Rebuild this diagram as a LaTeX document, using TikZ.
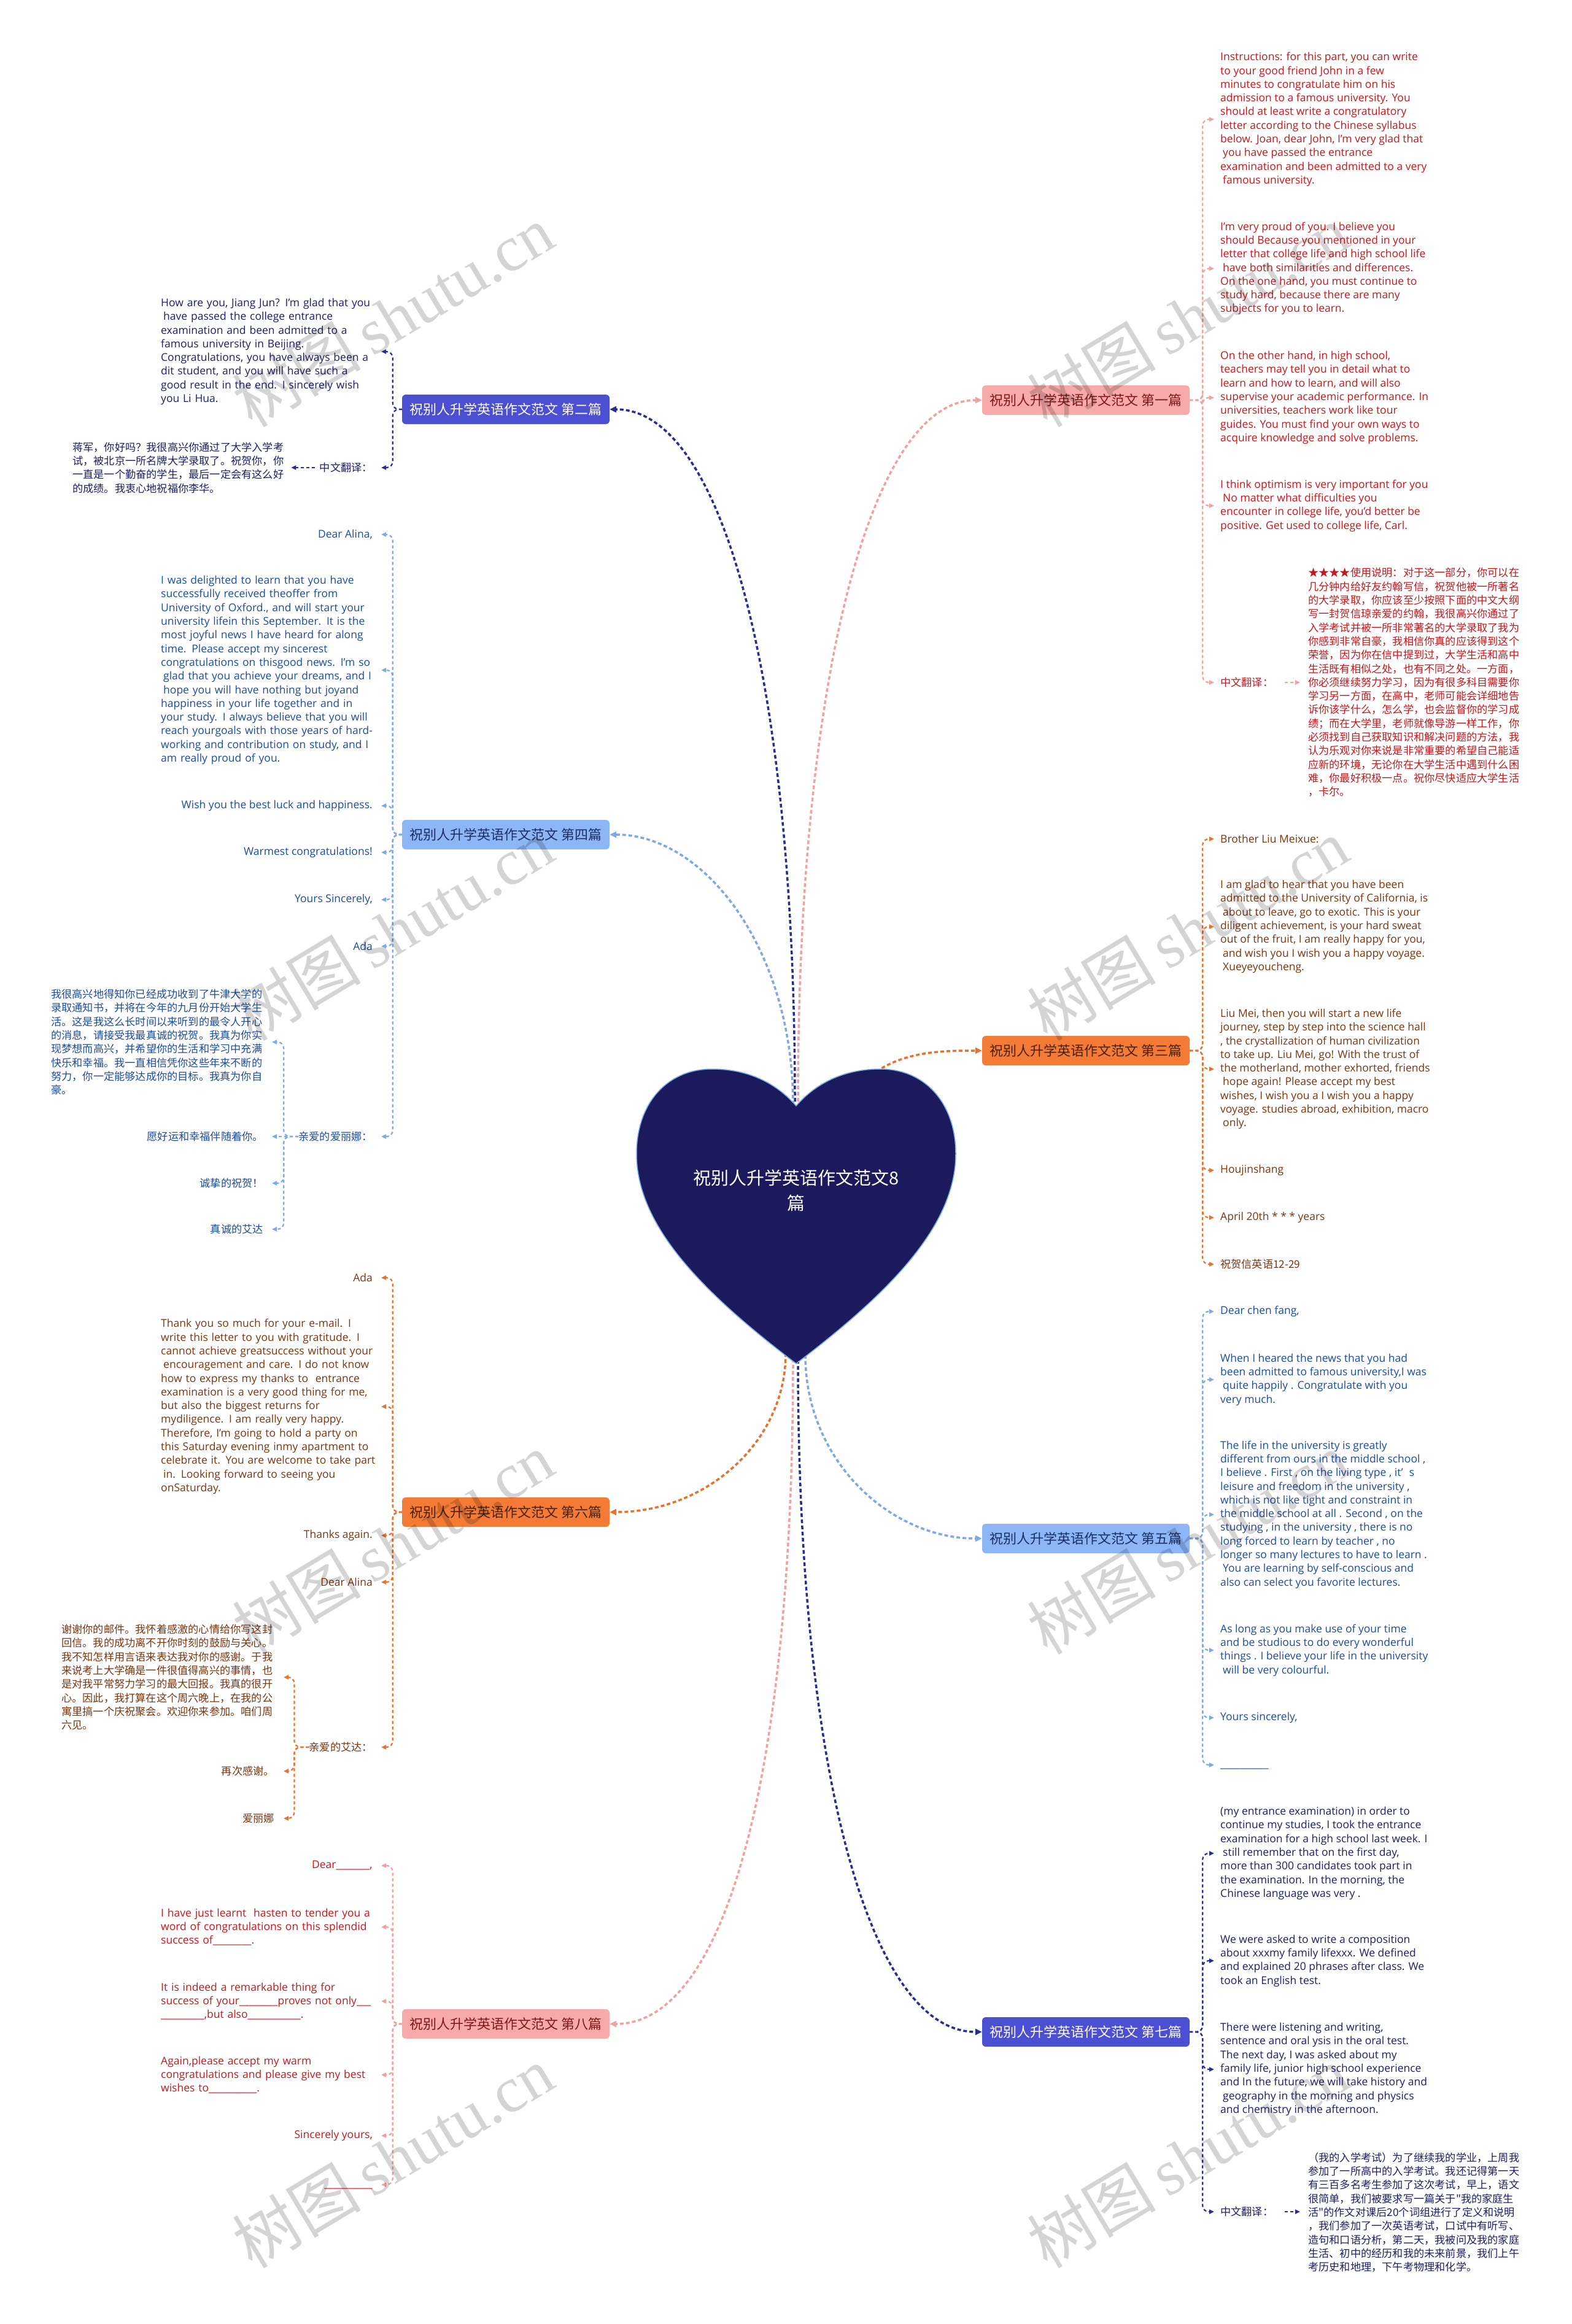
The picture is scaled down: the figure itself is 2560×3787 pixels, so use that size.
\documentclass[tikz,border=0pt]{standalone}
\usepackage{fontspec}
\setmainfont{Open Sans}
\newfontfamily\cjk{Noto Sans CJK SC}
\newfontfamily\wmserif{Liberation Serif}
\usetikzlibrary{arrows.meta}
\definecolor{pinkbox}{HTML}{F8A9A9}
\definecolor{pinkline}{HTML}{F2A0A0}
\definecolor{redtext}{HTML}{C8161D}
\definecolor{pinkboxtext}{HTML}{7A1A1A}
\definecolor{indigobox}{HTML}{4B4FD1}
\definecolor{navyline}{HTML}{2B2B96}
\definecolor{navytext}{HTML}{1E1E66}
\definecolor{orangebox}{HTML}{F47B35}
\definecolor{orangeboxtext}{HTML}{4A2008}
\definecolor{orangeline}{HTML}{E8722C}
\definecolor{browntext}{HTML}{7A3510}
\definecolor{lbluebox}{HTML}{8DB6F7}
\definecolor{lblueline}{HTML}{7EA8E6}
\definecolor{bluetext}{HTML}{1D4B9E}
\definecolor{lblueboxtext}{HTML}{1B2F66}
\definecolor{heartfill}{HTML}{1A1A5C}
\tikzset{
  en/.style={inner sep=0pt, align=left, font=\fontsize{17.5}{22.3}\selectfont},
  zh/.style={inner sep=0pt, align=left, font=\cjk\fontsize{17.2}{22.3}\selectfont},
  blockL/.style={en, anchor=west, text width=420pt},
  branchbox/.style={rounded corners=6pt, minimum width=338pt, minimum height=48pt, inner sep=0pt, font=\cjk\fontsize{22}{24}\selectfont},
  mainline/.style={line width=3.5pt, dash pattern=on 6pt off 4pt, -{Triangle[length=11pt,width=10pt]}},
  cl/.style={line width=2.2pt, dash pattern=on 5pt off 4pt, rounded corners=10pt, -{Triangle[length=8pt,width=7pt]}},
  wm/.style={rotate=31, text=black, text opacity=0.17, inner sep=0pt},
}
\begin{document}
\begin{tikzpicture}[x=1pt,y=-1pt]
\useasboundingbox (0,0) rectangle (2560,3787);
\fill[white] (0,0) rectangle (2560,3787);

% tip coordinates
\coordinate (tipR) at (1978,0);
\coordinate (tipL) at (621,0);
\coordinate (sub4) at (443,0);
\coordinate (sub6) at (462,0);
\coordinate (hT1) at (1300,1795);
\coordinate (hT2) at (1295,1795);
\coordinate (hT4) at (1292,1800);
\coordinate (hT3) at (1420,1752);
\coordinate (hB6) at (1280,2205);
\coordinate (hB5) at (1312,2208);
\coordinate (hB8) at (1292,2214);
\coordinate (hB7) at (1300,2216);

% branch boxes
\node[branchbox, fill=pinkbox, text=pinkboxtext] (b1) at (1769,652) {祝别人升学英语作文范文 第一篇};
\node[branchbox, fill=indigobox, text=white] (b2) at (824,667) {祝别人升学英语作文范文 第二篇};
\node[branchbox, fill=orangebox, text=orangeboxtext] (b3) at (1769,1712) {祝别人升学英语作文范文 第三篇};
\node[branchbox, fill=lbluebox, text=lblueboxtext] (b4) at (824,1360) {祝别人升学英语作文范文 第四篇};
\node[branchbox, fill=lbluebox, text=lblueboxtext] (b5) at (1769,2507) {祝别人升学英语作文范文 第五篇};
\node[branchbox, fill=orangebox, text=orangeboxtext] (b6) at (824,2464) {祝别人升学英语作文范文 第六篇};
\node[branchbox, fill=indigobox, text=white] (b7) at (1769,3311) {祝别人升学英语作文范文 第七篇};
\node[branchbox, fill=pinkbox, text=pinkboxtext] (b8) at (824,3298) {祝别人升学英语作文范文 第八篇};

% main connectors
\draw[mainline, pinkline] (hT1) .. controls (1300,1100) and (1420,652) .. (b1.west);
\draw[mainline, navyline] (hT2) .. controls (1295,1100) and (1175,667) .. (b2.east);
\draw[mainline, lblueline] (hT4) .. controls (1292,1550) and (1150,1360) .. (b4.east);
\draw[mainline, orangeline] (hT3) .. controls (1470,1712) and (1540,1712) .. (b3.west);
\draw[mainline, orangeline] (hB6) .. controls (1280,2350) and (1150,2464) .. (b6.east);
\draw[mainline, lblueline] (hB5) .. controls (1312,2380) and (1450,2507) .. (b5.west);
\draw[mainline, pinkline] (hB8) .. controls (1292,2900) and (1180,3298) .. (b8.east);
\draw[mainline, navyline] (hB7) .. controls (1300,2900) and (1420,3311) .. (b7.west);

% heart
\fill[heartfill, draw=lblueline, line width=1.5pt] (1297,1802)
  .. controls (1262,1762) and (1215,1742) .. (1160,1742)
  .. controls (1085,1742) and (1037,1800) .. (1037,1880)
  .. controls (1037,2000) and (1150,2110) .. (1297,2222)
  .. controls (1444,2110) and (1557,2000) .. (1557,1880)
  .. controls (1557,1800) and (1509,1742) .. (1434,1742)
  .. controls (1379,1742) and (1332,1762) .. (1297,1802) -- cycle;
\node[white, inner sep=0pt, align=center, font=\cjk\fontsize{29}{41}\selectfont] (center) at (1297,1940) {祝别人升学英语作文范文8\\篇};

% ---------------- Branch 1 ----------------
\begin{scope}[every node/.append style={text=redtext}]
\node[en, anchor=west] (r1a) at (1988,194.5) {Instructions: for this part, you can write\\to your good friend John in a few\\minutes to congratulate him on his\\admission to a famous university. You\\should at least write a congratulatory\\letter according to the Chinese syllabus\\below. Joan, dear John, I'm very glad that\\\hspace*{4pt}you have passed the entrance\\examination and been admitted to a very\\\hspace*{4pt}famous university.};
\node[en, anchor=west] (r1b) at (1988,437.5) {I'm very proud of you. I believe you\\should Because you mentioned in your\\letter that college life and high school life\\\hspace*{4pt}have both similarities and differences.\\On the one hand, you must continue to\\study hard, because there are many\\subjects for you to learn.};
\node[en, anchor=west] (r1c) at (1988,648) {On the other hand, in high school,\\teachers may tell you in detail what to\\learn and how to learn, and will also\\supervise your academic performance. In\\universities, teachers work like tour\\guides. You must find your own ways to\\acquire knowledge and solve problems.};
\node[en, anchor=west] (r1d) at (1988,824) {I think optimism is very important for you\\\hspace*{4pt}No matter what difficulties you\\encounter in college life, you'd better be\\positive. Get used to college life, Carl.};
\node[zh, anchor=west] (r1e) at (1988,1112) {中文翻译：};
\node[zh, anchor=west] (r1f) at (2131,1112) {★★★★使用说明：对于这一部分，你可以在\\几分钟内给好友约翰写信，祝贺他被一所著名\\的大学录取，你应该至少按照下面的中文大纲\\写一封贺信琼亲爱的约翰，我很高兴你通过了\\入学考试并被一所非常著名的大学录取了我为\\你感到非常自豪，我相信你真的应该得到这个\\荣誉，因为你在信中提到过，大学生活和高中\\生活既有相似之处，也有不同之处。一方面，\\你必须继续努力学习，因为有很多科目需要你\\学习另一方面，在高中，老师可能会详细地告\\诉你该学什么，怎么学，也会监督你的学习成\\绩；而在大学里，老师就像导游一样工作，你\\必须找到自己获取知识和解决问题的方法，我\\认为乐观对你来说是非常重要的希望自己能适\\应新的环境，无论你在大学生活中遇到什么困\\难，你最好积极一点。祝你尽快适应大学生活\\，卡尔。};
\end{scope}
\foreach \c in {r1a,r1b,r1c,r1d,r1e}{\draw[cl, pinkline] (b1.east) -- ++(21,0) |- (tipR |- \c.west);}
\draw[cl, pinkline, shorten <=19pt, shorten >=13pt] (r1e.east) -- (r1e.east -| r1f.west);

% ---------------- Branch 3 ----------------
\begin{scope}[every node/.append style={text=browntext}]
\node[en, anchor=west] (r3a) at (1988,1367) {Brother Liu Meixue:};
\node[en, anchor=west] (r3b) at (1988,1510) {I am glad to hear that you have been\\admitted to the University of California, is\\\hspace*{4pt}about to leave, go to exotic. This is your\\diligent achievement, is your hard sweat\\out of the fruit, I am really happy for you,\\\hspace*{4pt}and wish you I wish you a happy voyage.\\\hspace*{4pt}Xueyeyoucheng.};
\node[en, anchor=west] (r3c) at (1988,1742) {Liu Mei, then you will start a new life\\journey, step by step into the science hall\\, the crystallization of human civilization\\to take up. Liu Mei, go! With the trust of\\the motherland, mother exhorted, friends\\\hspace*{4pt}hope again! Please accept my best\\wishes, I wish you a I wish you a happy\\voyage. studies abroad, exhibition, macro\\\hspace*{4pt}only.};
\node[en, anchor=west] (r3d) at (1988,1907) {Houjinshang};
\node[en, anchor=west] (r3e) at (1988,1984) {April 20th * * * years};
\node[zh, anchor=west] (r3f) at (1988,2060) {祝贺信英语12-29};
\end{scope}
\foreach \c in {r3a,r3b,r3c,r3d,r3e,r3f}{\draw[cl, orangeline] (b3.east) -- ++(21,0) |- (tipR |- \c.west);}

% ---------------- Branch 5 ----------------
\begin{scope}[every node/.append style={text=bluetext}]
\node[en, anchor=west] (r5a) at (1988,2137) {Dear chen fang,};
\node[en, anchor=west] (r5b) at (1988,2248) {When I heared the news that you had\\been admitted to famous university,I was\\\hspace*{4pt}quite happily . Congratulate with you\\very much.};
\node[en, anchor=west] (r5c) at (1988,2468) {The life in the university is greatly\\different from ours in the middle school ,\\I believe . First , on the living type , it’\hspace{10pt}s\\leisure and freedom in the university ,\\which is not like tight and constraint in\\the middle school at all . Second , on the\\studying , in the university , there is no\\long forced to learn by teacher , no\\longer so many lectures to have to learn .\\\hspace*{4pt}You are learning by self-conscious and\\also can select you favorite lectures.};
\node[en, anchor=west] (r5d) at (1988,2689) {As long as you make use of your time\\and be studious to do every wonderful\\things . I believe your life in the university\\\hspace*{4pt}will be very colourful.};
\node[en, anchor=west] (r5e) at (1988,2799) {Yours sincerely,};
\node[en, anchor=west] (r5f) at (1988,2876) {\strut\_\_\_\_\_\_\_\_\_\_};
\end{scope}
\foreach \c in {r5a,r5b,r5c,r5d,r5e,r5f}{\draw[cl, lblueline] (b5.east) -- ++(21,0) |- (tipR |- \c.west);}

% ---------------- Branch 7 ----------------
\begin{scope}[every node/.append style={text=navytext}]
\node[en, anchor=west] (r7a) at (1988,3020) {(my entrance examination) in order to\\continue my studies, I took the entrance\\examination for a high school last week. I\\\hspace*{4pt}still remember that on the first day,\\more than 300 candidates took part in\\the examination. In the morning, the\\Chinese language was very .};
\node[en, anchor=west] (r7b) at (1988,3195) {We were asked to write a composition\\about xxxmy family lifexxx. We defined\\and explained 20 phrases after class. We\\took an English test.};
\node[en, anchor=west] (r7c) at (1988,3372) {There were listening and writing,\\sentence and oral ysis in the oral test.\\The next day, I was asked about my\\family life, junior high school experience\\and In the future, we will take history and\\\hspace*{4pt}geography in the morning and physics\\and chemistry in the afternoon.};
\node[zh, anchor=west] (r7d) at (1988,3604) {中文翻译：};
\node[zh, anchor=west] (r7e) at (2131,3605) {（我的入学考试）为了继续我的学业，上周我\\参加了一所高中的入学考试。我还记得第一天\\有三百多名考生参加了这次考试，早上，语文\\很简单，我们被要求写一篇关于"我的家庭生\\活"的作文对课后20个词组进行了定义和说明\\，我们参加了一次英语考试，口试中有听写、\\造句和口语分析，第二天，我被问及我的家庭\\生活、初中的经历和我的未来前景，我们上午\\考历史和地理，下午考物理和化学。};
\end{scope}
\foreach \c in {r7a,r7b,r7c,r7d}{\draw[cl, navyline] (b7.east) -- ++(21,0) |- (tipR |- \c.west);}
\draw[cl, navyline, shorten <=19pt, shorten >=13pt] (r7d.east) -- (r7d.east -| r7e.west);

% ---------------- Branch 2 ----------------
\begin{scope}[every node/.append style={text=navytext}]
\node[blockL] (l2a) at (262,573) {How are you, Jiang Jun? I'm glad that you\\\hspace*{4pt}have passed the college entrance\\examination and been admitted to a\\famous university in Beijing.\\Congratulations, you have always been a\\dit student, and you will have such a\\good result in the end. I sincerely wish\\you Li Hua.};
\node[zh, anchor=east] (l2b) at (607,762) {中文翻译：};
\node[zh, anchor=west] (l2c) at (118,762) {蒋军，你好吗？我很高兴你通过了大学入学考\\试，被北京一所名牌大学录取了。祝贺你，你\\一直是一个勤奋的学生，最后一定会有这么好\\的成绩。我衷心地祝福你李华。};
\end{scope}
\foreach \c in {l2a,l2b}{\draw[cl, navyline] (b2.west) -- ++(-15,0) |- (tipL |- \c.center);}
\draw[cl, navyline, shorten <=8pt, shorten >=12pt] (l2b.west) -- (l2b.west -| l2c.east);

% ---------------- Branch 4 ----------------
\begin{scope}[every node/.append style={text=bluetext}]
\node[en, anchor=east] (l4a) at (607,871) {Dear Alina,};
\node[blockL] (l4b) at (262,1092) {I was delighted to learn that you have\\successfully received theoffer from\\University of Oxford., and will start your\\university lifein this September. It is the\\most joyful news I have heard for along\\time. Please accept my sincerest\\congratulations on thisgood news. I'm so\\\hspace*{4pt}glad that you achieve your dreams, and I\\\hspace*{4pt}hope you will have nothing but joyand\\happiness in your life together and in\\your study. I always believe that you will\\reach yourgoals with those years of hard-\\working and contribution on study, and I\\am really proud of you.};
\node[en, anchor=east] (l4c) at (607,1313) {Wish you the best luck and happiness.};
\node[en, anchor=east] (l4d) at (607,1389) {Warmest congratulations!};
\node[en, anchor=east] (l4e) at (607,1466) {Yours Sincerely,};
\node[en, anchor=east] (l4f) at (607,1542) {Ada};
\node[zh, anchor=east] (l4g) at (607,1852) {亲爱的爱丽娜：};
\node[zh, anchor=west] (l4h) at (83,1698) {我很高兴地得知你已经成功收到了牛津大学的\\录取通知书，并将在今年的九月份开始大学生\\活。这是我这么长时间以来听到的最令人开心\\的消息，请接受我最真诚的祝贺。我真为你实\\现梦想而高兴，并希望你的生活和学习中充满\\快乐和幸福。我一直相信凭你这些年来不断的\\努力，你一定能够达成你的目标。我真为你自\\豪。};
\node[zh, anchor=east] (l4i) at (429,1852) {愿好运和幸福伴随着你。};
\node[zh, anchor=east] (l4j) at (429,1928) {诚挚的祝贺！};
\node[zh, anchor=east] (l4k) at (429,2003) {真诚的艾达};
\end{scope}
\foreach \c in {l4a,l4b,l4c,l4d,l4e,l4f,l4g}{\draw[cl, lblueline] (b4.west) -- ++(-15,0) |- (tipL |- \c.center);}
\foreach \c in {l4h,l4j,l4k}{\draw[cl, lblueline] (l4g.west) -- ++(-24,0) |- (sub4 |- \c.center);}
\draw[cl, lblueline] (l4g.west) -- (sub4 |- l4i.center);

% ---------------- Branch 6 ----------------
\begin{scope}[every node/.append style={text=browntext}]
\node[en, anchor=east] (l6a) at (607,2082) {Ada};
\node[blockL] (l6b) at (262,2292) {Thank you so much for your e-mail. I\\write this letter to you with gratitude. I\\cannot achieve greatsuccess without your\\\hspace*{4pt}encouragement and care. I do not know\\how to express my thanks to\ \ entrance\\examination is a very good thing for me,\\but also the biggest returns for\\mydiligence. I am really very happy.\\Therefore, I'm going to hold a party on\\this Saturday evening inmy apartment to\\celebrate it. You are welcome to take part\\\hspace*{4pt}in. Looking forward to seeing you\\onSaturday.};
\node[en, anchor=east] (l6c) at (607,2502) {Thanks again.};
\node[en, anchor=east] (l6d) at (607,2578) {Dear Alina};
\node[zh, anchor=east] (l6e) at (607,2847) {亲爱的艾达：};
\node[zh, anchor=west] (l6f) at (100,2733) {谢谢你的邮件。我怀着感激的心情给你写这封\\回信。我的成功离不开你时刻的鼓励与关心。\\我不知怎样用言语来表达我对你的感谢。于我\\来说考上大学确是一件很值得高兴的事情，也\\是对我平常努力学习的最大回报。我真的很开\\心。因此，我打算在这个周六晚上，在我的公\\寓里搞一个庆祝聚会。欢迎你来参加。咱们周\\六见。};
\node[zh, anchor=east] (l6g) at (447,2886) {再次感谢。};
\node[zh, anchor=east] (l6h) at (447,2963) {爱丽娜};
\end{scope}
\foreach \c in {l6a,l6b,l6c,l6d,l6e}{\draw[cl, orangeline] (b6.west) -- ++(-15,0) |- (tipL |- \c.center);}
\foreach \c in {l6f,l6g,l6h}{\draw[cl, orangeline] (l6e.west) -- ++(-24,0) |- (sub6 |- \c.center);}

% ---------------- Branch 8 ----------------
\begin{scope}[every node/.append style={text=redtext}]
\node[en, anchor=east] (l8a) at (607,3040) {Dear\_\_\_\_\_\_\_,};
\node[blockL] (l8b) at (262,3140) {I have just learnt\ \ hasten to tender you a\\word of congratulations on this splendid\\success of\_\_\_\_\_\_\_\_.};
\node[blockL] (l8c) at (262,3261) {It is indeed a remarkable thing for\\success of your\_\_\_\_\_\_\_\_proves not only\_\_\_\\\_\_\_\_\_\_\_\_\_,but also\_\_\_\_\_\_\_\_\_\_\_.};
\node[blockL] (l8d) at (262,3381) {Again,please accept my warm\\congratulations and please give my best\\wishes to\_\_\_\_\_\_\_\_\_\_.};
\node[en, anchor=east] (l8e) at (607,3480) {Sincerely yours,};
\node[en, anchor=east] (l8f) at (607,3560) {\strut\_\_\_\_\_\_\_\_\_\_};
\end{scope}
\foreach \c in {l8a,l8b,l8c,l8d,l8e,l8f}{\draw[cl, pinkline] (b8.west) -- ++(-15,0) |- (tipL |- \c.center);}

% watermarks
\foreach \p/\q in {640/515,1935/515,640/1515,1935/1515,640/2515,1935/2515,640/3515,1935/3515}{
  \node[wm] at (\p,\q) {\cjk\fontsize{105}{110}\selectfont 树图\hspace{18pt}\wmserif shutu.cn};
}
\end{tikzpicture}
\end{document}
